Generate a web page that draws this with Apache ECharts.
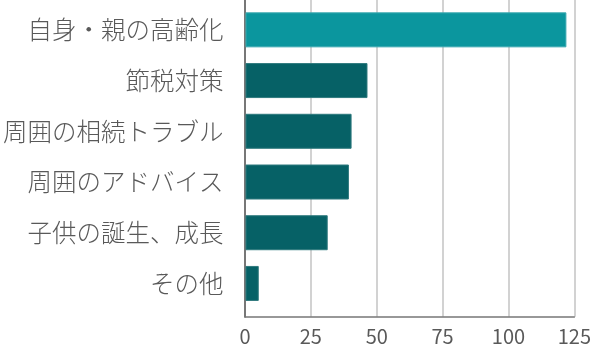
<!DOCTYPE html>
<html><head><meta charset="utf-8">
<script src="https://cdn.jsdelivr.net/npm/echarts@6/dist/echarts.min.js"></script>
<style>html,body{margin:0;padding:0;background:#fff}#c{width:594px;height:358px}</style>
</head><body><div id="c"></div>
<script>
var categories = ["自身・親の高齢化","節税対策","周囲の相続トラブル","周囲のアドバイス","子供の誕生、成長","その他"];
var values = [121, 46, 40, 39, 31, 5];
var xTicks = {min: 0, max: 125, interval: 25};
var highlightColor = "#0b969e";
var baseColor = "#066166";

var chart = echarts.init(document.getElementById('c'), null, {renderer: 'canvas'});
var font = '"Noto Sans CJK JP", "Noto Sans", sans-serif';
chart.setOption({
  animation: false,
  grid: [
    {left: 245, right: 17, top: 4.5, height: 304.3},
    {left: 245, right: 17, top: 0, height: 316.7}
  ],
  xAxis: [
    {gridIndex: 0, type: 'value', min: xTicks.min, max: xTicks.max, interval: xTicks.interval, show: false},
    {gridIndex: 1, type: 'value', min: xTicks.min, max: xTicks.max, interval: xTicks.interval,
     axisLine: {show: true, lineStyle: {color: '#777', width: 1.5}},
     axisTick: {show: false},
     splitLine: {show: true, lineStyle: {color: '#d2d2d2', width: 2}},
     axisLabel: {color: '#595959', fontSize: 20, fontFamily: font, margin: 10}}
  ],
  yAxis: [
    {gridIndex: 0, type: 'category', data: categories, inverse: true,
     axisLine: {show: false}, axisTick: {show: false}, splitLine: {show: false},
     axisLabel: {color: '#595959', fontSize: 24.5, fontWeight: 300, fontFamily: font, margin: 22}},
    {gridIndex: 1, type: 'value', min: 0, max: 1,
     axisLine: {show: true, lineStyle: {color: '#777', width: 2}},
     axisTick: {show: false}, axisLabel: {show: false}, splitLine: {show: false}}
  ],
  series: [
    {type: 'bar', xAxisIndex: 0, yAxisIndex: 0, barWidth: 35, z: 5,
     data: values.map(function (v, i) {
       return {value: v, itemStyle: {color: i === 0 ? highlightColor : baseColor,
         borderColor: i === 0 ? '#3aa9b0' : '#2f7a7e', borderWidth: 1}};
     })},
    {type: 'bar', xAxisIndex: 1, yAxisIndex: 1, data: []}
  ]
});
</script></body></html>
